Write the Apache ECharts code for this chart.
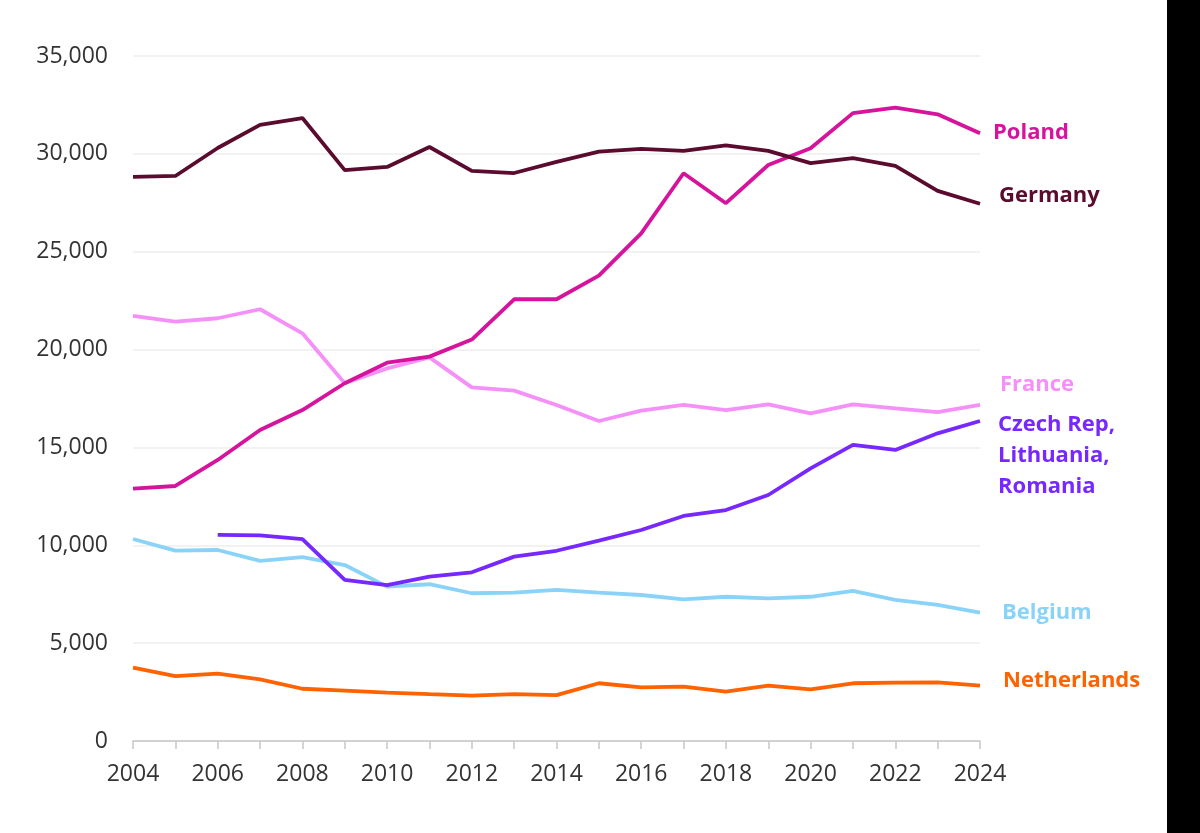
<!DOCTYPE html>
<html>
<head>
<meta charset="utf-8">
<script src="https://cdn.jsdelivr.net/npm/echarts@6/dist/echarts.min.js"></script>
<style>
html,body{margin:0;padding:0;background:#fff;}
#chart{width:1200px;height:833px;}
</style>
</head>
<body>
<div id="chart"></div>
<script>
const years = ['2004','2005','2006','2007','2008','2009','2010','2011','2012','2013','2014','2015','2016','2017','2018','2019','2020','2021','2022','2023','2024'];
const yTicks = [0, 5000, 10000, 15000, 20000, 25000, 30000, 35000];

const poland = [12890,13030,14360,15890,16910,18280,19330,19640,20510,22570,22570,23780,25940,29010,27480,29430,30290,32080,32360,32020,31050];
const germany = [28820,28870,30300,31480,31830,29170,29330,30350,29130,29020,29590,30110,30250,30150,30430,30150,29530,29780,29390,28110,27450];
const france = [21720,21430,21600,22060,20830,18280,19040,19600,18070,17900,17170,16350,16880,17170,16910,17200,16740,17200,17000,16800,17170];
const czlr = [null,null,10530,10510,10320,8230,7970,8400,8620,9420,9720,10240,10780,11500,11800,12570,13930,15130,14870,15720,16350];
const belgium = [10320,9730,9760,9200,9390,8990,7890,8010,7550,7580,7720,7580,7460,7240,7370,7290,7370,7670,7210,6950,6560];
const netherlands = [3750,3320,3440,3150,2670,2570,2470,2390,2320,2390,2340,2950,2740,2780,2520,2830,2640,2950,2980,3000,2830];

const names = ['Poland','Germany','France','Czech Rep,\nLithuania,\nRomania','Belgium','Netherlands'];
const colors = ['#D6139C','#5A0B2E','#F490F7','#7628FF','#8AD3F8','#FF6200'];
const seriesData = [poland, germany, france, czlr, belgium, netherlands];
const labelOffsets = [[13,-1],[19,-8],[20,-20],[18,35],[22,0],[23,-5]];

const chart = echarts.init(document.getElementById('chart'));
const font = '"Open Sans", "DejaVu Sans", sans-serif';

const series = seriesData.map((d, i) => ({
  name: names[i],
  type: 'line',
  data: d,
  symbol: 'none',
  smooth: false,
  connectNulls: false,
  lineStyle: { color: colors[i], width: 3.8 },
  itemStyle: { color: colors[i] },
  z: [3,4,2,5,1,1][i],
  endLabel: {
    show: true,
    formatter: names[i],
    color: colors[i],
    fontFamily: font,
    fontWeight: 'bold',
    fontSize: 22,
    lineHeight: 31,
    distance: 0,
    offset: labelOffsets[i],
    align: 'left',
    verticalAlign: 'middle'
  },
  emphasis: { disabled: true }
}));

chart.setOption({
  backgroundColor: '#fff',
  animation: false,
  grid: { left: 133, right: 220, top: 56, bottom: 92, containLabel: false },
  xAxis: {
    type: 'category',
    data: years,
    boundaryGap: false,
    axisLine: { show: true, lineStyle: { color: '#c8c8c8', width: 1.5 } },
    axisTick: { show: true, interval: 0, length: 8, lineStyle: { color: '#c8c8c8', width: 1.5 } },
    axisLabel: {
      interval: 1,
      color: '#333',
      fontFamily: font,
      fontSize: 23,
      margin: 22
    },
    splitLine: { show: false }
  },
  yAxis: {
    type: 'value',
    min: yTicks[0],
    max: yTicks[yTicks.length - 1],
    interval: 5000,
    axisLine: { show: false },
    axisTick: { show: false },
    axisLabel: {
      color: '#333',
      fontFamily: font,
      fontSize: 23,
      margin: 25,
      formatter: v => v.toLocaleString('en-US')
    },
    splitLine: { show: true, lineStyle: { color: '#eeeeee', width: 1.5 } }
  },
  series: series,
  graphic: [{
    type: 'rect',
    right: 0,
    top: 0,
    shape: { width: 33, height: 833 },
    style: { fill: '#000' },
    z: 100
  }]
});
</script>
</body>
</html>
